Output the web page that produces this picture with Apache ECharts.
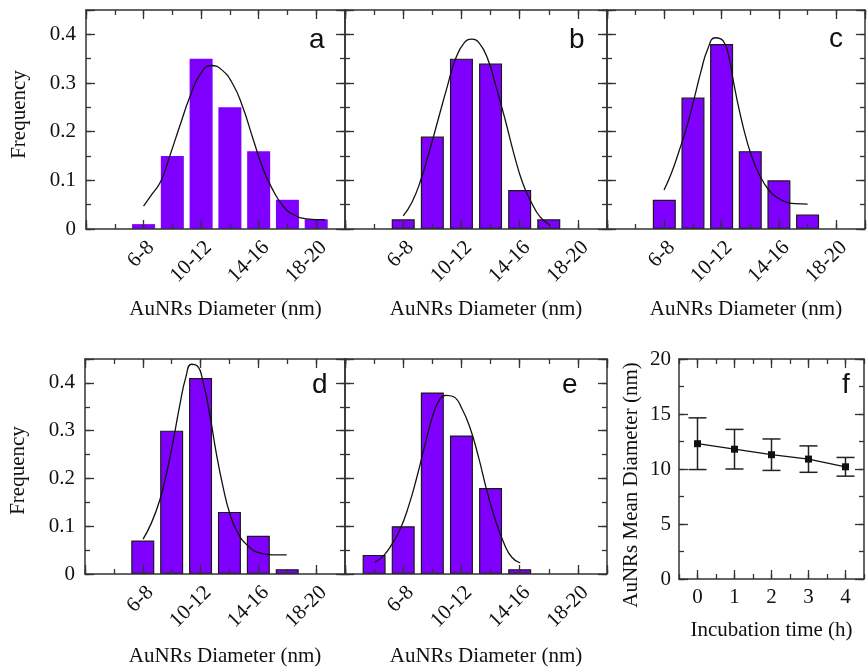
<!DOCTYPE html>
<html>
<head>
<meta charset="utf-8">
<script src="https://cdn.jsdelivr.net/npm/echarts@6/dist/echarts.min.js"></script>
<style>
  html, body { margin: 0; padding: 0; background: #fff; }
  #chart { width: 867px; height: 668px; }
</style>
</head>
<body>
<div id="chart"></div>
<script>
// Bin axis: tick index -> size bin label (index 2 is the 6-8 nm bin)
const binTickLabels = ['', '', '6-8', '', '10-12', '', '14-16', '', '18-20', ''];
const freqTicks = [0, 0.1, 0.2, 0.3, 0.4];

// Histograms: bin position and frequency
const posA = [2, 3, 4, 5, 6, 7, 8];
const freqA = [0.01, 0.15, 0.35, 0.25, 0.16, 0.06, 0.02];
const posB = [2, 3, 4, 5, 6, 7];
const freqB = [0.02, 0.19, 0.35, 0.34, 0.08, 0.02];
const posC = [2, 3, 4, 5, 6, 7];
const freqC = [0.06, 0.27, 0.38, 0.16, 0.10, 0.03];
const posD = [2, 3, 4, 5, 6, 7];
const freqD = [0.07, 0.30, 0.41, 0.13, 0.08, 0.01];
const posE = [1, 2, 3, 4, 5, 6];
const freqE = [0.04, 0.10, 0.38, 0.29, 0.18, 0.01];

// Fitted distribution curves
const fitAx = [2.0, 2.3, 2.6, 2.9, 3.25, 3.6, 3.95, 4.35, 4.7, 5.1, 5.45, 5.8, 6.15, 6.45, 6.85, 7.2, 7.65, 8.3];
const fitAy = [0.047, 0.072, 0.098, 0.148, 0.21, 0.27, 0.316, 0.336, 0.328, 0.298, 0.25, 0.186, 0.124, 0.085, 0.047, 0.030, 0.021, 0.019];
const fitBx = [2.0, 2.3, 2.6, 2.9, 3.2, 3.5, 3.8, 4.1, 4.35, 4.6, 4.9, 5.2, 5.5, 5.8, 6.1, 6.4, 6.7, 7.05];
const fitBy = [0.027, 0.055, 0.10, 0.16, 0.225, 0.29, 0.35, 0.383, 0.39, 0.383, 0.35, 0.29, 0.225, 0.155, 0.095, 0.055, 0.025, 0.008];
const fitCx = [1.99, 2.25, 2.53, 2.79, 3.05, 3.28, 3.51, 3.78, 4.06, 4.26, 4.40, 4.61, 4.90, 5.18, 5.47, 5.76, 6.11, 6.57, 7.0];
const fitCy = [0.080, 0.115, 0.163, 0.211, 0.270, 0.324, 0.369, 0.393, 0.386, 0.352, 0.307, 0.246, 0.177, 0.129, 0.095, 0.073, 0.059, 0.052, 0.051];
const fitDx = [2.01, 2.30, 2.59, 2.82, 3.05, 3.28, 3.49, 3.68, 3.88, 4.09, 4.32, 4.55, 4.78, 5.01, 5.29, 5.64, 6.04, 6.50, 6.98];
const fitDy = [0.073, 0.107, 0.155, 0.210, 0.278, 0.353, 0.412, 0.439, 0.436, 0.401, 0.333, 0.251, 0.182, 0.127, 0.086, 0.059, 0.044, 0.040, 0.040];
const fitEx = [1.03, 1.32, 1.61, 1.89, 2.18, 2.47, 2.75, 3.04, 3.27, 3.47, 3.73, 4.01, 4.30, 4.59, 4.87, 5.16, 5.45, 5.73, 6.02];
const fitEy = [0.025, 0.038, 0.062, 0.093, 0.141, 0.203, 0.271, 0.336, 0.367, 0.374, 0.371, 0.347, 0.305, 0.244, 0.175, 0.114, 0.066, 0.035, 0.023];

// Mean diameter vs incubation time
const timeH = [0, 1, 2, 3, 4];
const meanD = [12.3, 11.8, 11.3, 10.9, 10.2];
const sdD = [2.35, 1.8, 1.43, 1.2, 0.85];
const timeTicks = [0, 1, 2, 3, 4];
const diamTicks = [0, 5, 10, 15, 20];

const AXIS_COLOR = '#333';
const TEXT_COLOR = '#111';
const SERIF = 'Liberation Serif';
const BAR_COLOR = '#7f00ff';

const panels = [
  { letter: 'a', grid: { left: 86, top: 10, width: 259, height: 219 }, pos: posA, freq: freqA, fx: fitAx, fy: fitAy, border: 0, yLabels: true, letterPos: [309, 26], yNamePad: [0, 0, 0, 10], nameGap: 70 },
  { letter: 'b', grid: { left: 345, top: 10, width: 262, height: 219 }, pos: posB, freq: freqB, fx: fitBx, fy: fitBy, border: 1.2, yLabels: false, letterPos: [569, 26], nameGap: 70 },
  { letter: 'c', grid: { left: 607, top: 10, width: 259, height: 219 }, pos: posC, freq: freqC, fx: fitCx, fy: fitCy, border: 1.2, yLabels: false, letterPos: [829, 25], nameGap: 70 },
  { letter: 'd', grid: { left: 85, top: 359, width: 260, height: 220 }, pos: posD, freq: freqD, fx: fitDx, fy: fitDy, border: 1.2, yLabels: true, letterPos: [312, 371], yNamePad: [0, 8, 0, 0], nameGap: 72 },
  { letter: 'e', grid: { left: 345, top: 359, width: 262, height: 220 }, pos: posE, freq: freqE, fx: fitEx, fy: fitEy, border: 1.2, yLabels: false, letterPos: [562, 371], nameGap: 72 }
];

const grids = [], xAxes = [], yAxes = [], series = [], titles = [];

function tickStyle(len) {
  return { show: true, inside: true, length: len, lineStyle: { color: AXIS_COLOR, width: 1.3 } };
}
function baseAxis(gridIndex, position, extra) {
  return Object.assign({
    type: 'value', gridIndex, position, z: 5,
    axisLine: { show: false, onZero: false, lineStyle: { color: AXIS_COLOR, width: 1.5 } },
    axisTick: tickStyle(5),
    axisLabel: { show: false },
    splitLine: { show: false }
  }, extra);
}
// Adds a pair of axes on one side: short ticks + frame line, and long ticks (+labels).
function addSide(list, gridIndex, position, minorExtra, majorExtra) {
  const idx = list.length;
  const minor = baseAxis(gridIndex, position, minorExtra);
  minor.axisLine = { show: true, onZero: false, lineStyle: { color: AXIS_COLOR, width: 1.5 } };
  list.push(minor);
  const major = baseAxis(gridIndex, position, majorExtra);
  major.axisTick = Object.assign(tickStyle(9), majorExtra.axisTickExtra || {});
  delete major.axisTickExtra;
  list.push(major);
  return idx;
}

const labelFont = { fontFamily: SERIF, fontSize: 21, color: TEXT_COLOR };
const nameFont = { fontFamily: SERIF, fontSize: 21, color: TEXT_COLOR };

panels.forEach((p, g) => {
  grids.push(Object.assign({ containLabel: false }, p.grid));
  const xr = { min: 0, max: 9 };
  const yr = { min: 0, max: 0.45 };
  const xi = addSide(xAxes, g, 'bottom',
    Object.assign({ interval: 1, name: 'AuNRs Diameter (nm)', nameLocation: 'middle', nameGap: p.nameGap,
      nameTextStyle: Object.assign({ padding: [0, 0, 0, 20] }, nameFont) }, xr),
    Object.assign({ interval: 2, axisLabel: Object.assign({ show: true, rotate: 45, margin: 8, verticalAlign: 'top',
      formatter: v => binTickLabels[Math.round(v)] || '' }, labelFont) }, xr));
  addSide(xAxes, g, 'top', Object.assign({ interval: 1 }, xr), Object.assign({ interval: 2 }, xr));
  const yMinor = Object.assign({ interval: 0.05 }, yr);
  if (p.yLabels) {
    Object.assign(yMinor, { name: 'Frequency', nameLocation: 'middle', nameGap: 56,
      nameTextStyle: Object.assign({ padding: p.yNamePad }, nameFont) });
  }
  const yi = addSide(yAxes, g, 'left', yMinor,
    Object.assign({ interval: 0.1, axisLabel: Object.assign({ show: p.yLabels, margin: 10,
      formatter: v => {
        const r = Math.round(v * 100) / 100;
        return freqTicks.indexOf(r) >= 0 ? String(r) : '';
      } }, labelFont) }, yr));
  addSide(yAxes, g, 'right', Object.assign({ interval: 0.05 }, yr), Object.assign({ interval: 0.1 }, yr));

  series.push({
    type: 'bar', xAxisIndex: xi, yAxisIndex: yi, barWidth: 23, z: 2,
    itemStyle: { color: BAR_COLOR, borderColor: '#1a1a1a', borderWidth: p.border },
    data: p.pos.map((x, i) => [x, p.freq[i]])
  });
  series.push({
    type: 'line', xAxisIndex: xi, yAxisIndex: yi, smooth: true, showSymbol: false, z: 6,
    lineStyle: { color: '#111', width: 1.3 },
    data: p.fx.map((x, i) => [x, p.fy[i]])
  });
  titles.push({ text: p.letter, left: p.letterPos[0], top: p.letterPos[1], padding: 0,
    textStyle: { fontFamily: 'Liberation Sans', fontSize: 28, fontWeight: 'normal', color: TEXT_COLOR } });
});

// Panel f: mean diameter with error bars
const gf = grids.length;
grids.push({ left: 679, top: 359, width: 194, height: 220 });
const fxr = { min: -0.5, max: 4.5 };
const fyr = { min: 0, max: 20 };
const fxi = addSide(xAxes, gf, 'bottom',
  Object.assign({ interval: 0.5, name: 'Incubation time (h)', nameLocation: 'middle', nameGap: 41,
    nameTextStyle: nameFont,
    axisLabel: Object.assign({ show: true, margin: 8,
      formatter: v => timeTicks.indexOf(v) >= 0 ? String(v) : '' }, labelFont) }, fxr),
  Object.assign({ interval: 0.5, axisTickExtra: { customValues: timeTicks } }, fxr));
addSide(xAxes, gf, 'top', Object.assign({ interval: 0.5 }, fxr),
  Object.assign({ interval: 0.5, axisTickExtra: { customValues: timeTicks } }, fxr));
const fyi = addSide(yAxes, gf, 'left',
  Object.assign({ interval: 2.5, name: 'AuNRs Mean Diameter (nm)', nameLocation: 'middle', nameGap: 37,
    nameTextStyle: Object.assign({ padding: [0, 32, 0, 0] }, nameFont) }, fyr),
  Object.assign({ interval: 5, axisLabel: Object.assign({ show: true, margin: 8,
    formatter: v => diamTicks.indexOf(v) >= 0 ? String(v) : '' }, labelFont) }, fyr));
addSide(yAxes, gf, 'right', Object.assign({ interval: 2.5 }, fyr), Object.assign({ interval: 5 }, fyr));

series.push({
  type: 'custom', xAxisIndex: fxi, yAxisIndex: fyi, z: 5,
  data: timeH.map((t, i) => [t, meanD[i], sdD[i]]),
  renderItem: (params, api) => {
    const x = api.value(0), y = api.value(1), s = api.value(2);
    const hi = api.coord([x, y + s]);
    const lo = api.coord([x, y - s]);
    const half = 9;
    const style = { stroke: '#222', lineWidth: 1.5 };
    return {
      type: 'group',
      children: [
        { type: 'line', shape: { x1: hi[0], y1: hi[1], x2: lo[0], y2: lo[1] }, style },
        { type: 'line', shape: { x1: hi[0] - half, y1: hi[1], x2: hi[0] + half, y2: hi[1] }, style },
        { type: 'line', shape: { x1: lo[0] - half, y1: lo[1], x2: lo[0] + half, y2: lo[1] }, style }
      ]
    };
  }
});
series.push({
  type: 'line', xAxisIndex: fxi, yAxisIndex: fyi, z: 6,
  symbol: 'rect', symbolSize: 7, showSymbol: true,
  itemStyle: { color: '#111' }, lineStyle: { color: '#111', width: 1.3 },
  data: timeH.map((t, i) => [t, meanD[i]])
});
titles.push({ text: 'f', left: 842, top: 371, padding: 0,
  textStyle: { fontFamily: 'Liberation Sans', fontSize: 28, fontWeight: 'normal', color: TEXT_COLOR } });

const chart = echarts.init(document.getElementById('chart'), null, { renderer: 'canvas' });
chart.setOption({
  animation: false,
  backgroundColor: '#fff',
  title: titles,
  grid: grids,
  xAxis: xAxes,
  yAxis: yAxes,
  series
});
</script>
</body>
</html>
